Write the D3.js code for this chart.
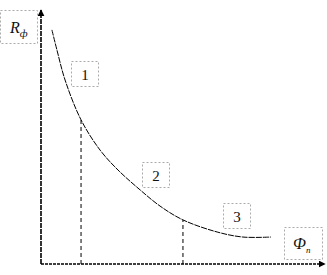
<!DOCTYPE html>
<html>
<head>
<meta charset="utf-8">
<script src="https://cdn.jsdelivr.net/npm/d3@7"></script>
<style>
  body { margin: 0; background: #fff; }
  svg { display: block; }
  .lbl { font-family: "Liberation Serif", "DejaVu Serif", serif; fill: #111; }
</style>
</head>
<body>
<div id="chart"></div>
<script>
// curve R_ф(Ф_п) (arbitrary units 0..10)
const phi = [0.39, 0.57, 0.86, 1.43, 2.11, 2.75, 3.54, 4.25, 5.07, 6.29, 7.21, 8.21];
const rph = [9.29, 8.49, 7.30, 5.72, 4.52, 3.73, 2.94, 2.30, 1.75, 1.27, 1.07, 1.07];
// zone boundaries (dashed verticals)
const bounds = [1.43, 5.07];
const zones = ["1", "2", "3"];

const W = 327, H = 275;
const svg = d3.select("#chart").append("svg")
    .attr("width", W)
    .attr("height", H);

const x = d3.scaleLinear().domain([0, 10]).range([41, 321]);
const y = d3.scaleLinear().domain([0, 10]).range([264, 12]);

const defs = svg.append("defs");
defs.append("marker")
    .attr("id", "arr")
    .attr("viewBox", "0 0 10 10")
    .attr("refX", 9).attr("refY", 5)
    .attr("markerWidth", 7).attr("markerHeight", 7)
    .attr("markerUnits", "userSpaceOnUse")
    .attr("orient", "auto")
    .append("path")
    .attr("d", "M0,0 L10,5 L0,10 z")
    .attr("fill", "#000");

// axes
svg.append("line")
    .attr("x1", x(0)).attr("y1", y(0))
    .attr("x2", x(0)).attr("y2", 10)
    .attr("stroke", "#000").attr("stroke-width", 1.6)
    .attr("stroke-dasharray", "5,1")
    .attr("marker-end", "url(#arr)");
svg.append("line")
    .attr("x1", x(0)).attr("y1", y(0))
    .attr("x2", 325).attr("y2", y(0))
    .attr("stroke", "#000").attr("stroke-width", 1.6)
    .attr("stroke-dasharray", "3,1")
    .attr("marker-end", "url(#arr)");

// curve
const pts = phi.map((v, i) => [v, rph[i]]);
const line = d3.line()
    .x(d => x(d[0]))
    .y(d => y(d[1]))
    .curve(d3.curveCatmullRom.alpha(0.5));

svg.append("path")
    .datum(pts)
    .attr("d", line)
    .attr("fill", "none")
    .attr("stroke", "#000")
    .attr("stroke-width", 1)
    .attr("stroke-dasharray", "6,1");

// vertical dashed lines down from the curve
const interp = v => {
  const i = d3.bisectLeft(phi, v);
  if (phi[i] === v) return rph[i];
  const t = (v - phi[i - 1]) / (phi[i] - phi[i - 1]);
  return rph[i - 1] + t * (rph[i] - rph[i - 1]);
};
svg.selectAll(".bound")
    .data(bounds)
    .join("line")
    .attr("class", "bound")
    .attr("x1", d => x(d)).attr("x2", d => x(d))
    .attr("y1", y(0)).attr("y2", d => y(interp(d)))
    .attr("stroke", "#000").attr("stroke-width", 1)
    .attr("stroke-dasharray", "4,3");

// label boxes with dotted grey frames
function box(x0, y0, w, h) {
  svg.append("rect")
      .attr("x", x0 + 0.5).attr("y", y0 + 0.5)
      .attr("width", w).attr("height", h)
      .attr("fill", "none")
      .attr("stroke", "#aaa")
      .attr("stroke-width", 1)
      .attr("stroke-dasharray", "2,2");
}

const zoneBoxes = [[71, 61], [142, 162], [223, 203]];
zoneBoxes.forEach((b, i) => {
  box(b[0], b[1], 27, 25);
  svg.append("text")
      .attr("class", "lbl")
      .attr("x", b[0] + 14).attr("y", b[1] + 19)
      .attr("text-anchor", "middle")
      .attr("font-size", 15)
      .text(zones[i]);
});

// axis titles
box(0, 10, 37, 33);
const ry = svg.append("text")
    .attr("class", "lbl")
    .attr("x", 10).attr("y", 33)
    .attr("font-size", 16)
    .attr("font-style", "italic");
ry.append("tspan").text("R");
ry.append("tspan").attr("font-size", 11).attr("dy", 4).text("ф");

box(284, 227, 38, 32);
const rx = svg.append("text")
    .attr("class", "lbl")
    .attr("x", 293).attr("y", 249)
    .attr("font-size", 16)
    .attr("font-style", "italic");
rx.append("tspan").text("Ф");
rx.append("tspan").attr("font-size", 9).attr("dy", 4).text("п");
</script>
</body>
</html>
